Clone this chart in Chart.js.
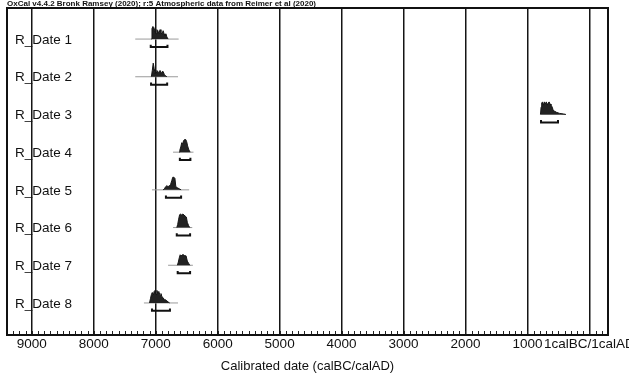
<!DOCTYPE html>
<html>
<head>
<meta charset="utf-8">
<script src="https://cdn.jsdelivr.net/npm/chart.js@4/dist/chart.umd.min.js"></script>
<style>
  body { margin: 0; background: #fff; }
</style>
</head>
<body>
<canvas id="myChart" width="629" height="378"></canvas>
<script>
// sample names
const labels = ['R_Date 1', 'R_Date 2', 'R_Date 3', 'R_Date 4', 'R_Date 5', 'R_Date 6', 'R_Date 7', 'R_Date 8'];

// x ticks, years calBC (0 = 1calBC/1calAD)
const tickYears = [9000, 8000, 7000, 6000, 5000, 4000, 3000, 2000, 1000, 0];

// extent of the faint likelihood line for each date
const spans = [[7330, 6630], [7330, 6640], [790, 380], [6720, 6390], [7060, 6460], [6720, 6410], [6800, 6400], [7190, 6640]];

// 95.4% range bracket under each date
const ranges = [[7080, 6810], [7075, 6815], [781, 507], [6610, 6440], [6835, 6590], [6660, 6445], [6645, 6445], [7060, 6770]];

// calibrated distributions (years calBC, relative probability)
const dateYears = [
    [7070, 7060, 7045, 7030, 7010, 6995, 6980, 6965, 6950, 6930, 6915, 6900, 6880, 6865, 6850, 6835, 6820, 6800],
    [7070, 7055, 7040, 7025, 7010, 6995, 6980, 6960, 6945, 6930, 6910, 6895, 6880, 6860, 6840, 6820],
    [790, 780, 770, 755, 740, 725, 710, 695, 680, 665, 650, 635, 620, 600, 585, 560, 530, 480, 420, 380],
    [6620, 6610, 6595, 6580, 6565, 6550, 6535, 6515, 6500, 6485, 6470, 6455, 6440],
    [6880, 6860, 6840, 6820, 6800, 6780, 6760, 6740, 6725, 6705, 6690, 6675, 6650, 6620, 6590],
    [6660, 6645, 6630, 6615, 6600, 6580, 6560, 6545, 6525, 6505, 6490, 6470, 6450],
    [6650, 6635, 6620, 6605, 6590, 6570, 6550, 6530, 6510, 6490, 6470, 6450],
    [7100, 7085, 7070, 7055, 7040, 7025, 7010, 6995, 6980, 6965, 6950, 6930, 6915, 6900, 6880, 6860, 6840, 6820, 6800, 6775]
];
const dateProbs = [
    [0, 10, 12, 11, 7, 5, 9, 8, 5, 9, 7, 4, 8, 5, 3, 5, 2, 0],
    [0, 6, 13, 8, 3, 4, 6, 3, 5, 6, 3, 5, 5, 2, 1, 0],
    [0, 7, 11, 12, 9, 12, 10, 12, 9, 11, 12, 10, 9, 7, 4, 3, 2, 1, 0.5, 0],
    [0, 2, 5, 9, 8, 11, 12, 12, 10, 6, 3, 1, 0],
    [0, 1, 3, 4, 3, 4, 5, 9, 12, 12, 11, 3, 2, 1, 0],
    [0, 3, 8, 12, 13, 12, 13, 12, 11, 10, 5, 2, 0],
    [0, 3, 7, 10, 9, 10, 10, 9, 9, 4, 2, 0],
    [0, 4, 8, 10, 7, 11, 12, 8, 12, 9, 11, 7, 9, 6, 5, 3, 3, 2, 1, 0]
];

const fontFamily = '"Liberation Sans", Arial, sans-serif';
const rowTop = 7.85;      // baseline of first row in y units
const probScale = 1 / 36; // relative probability -> y units
const bracketDrop = 0.21;
const bracketTick = 0.06;

const datasets = [];
labels.forEach(function(name, i) {
    const base = rowTop - i;
    datasets.push({
        label: name + ' dist',
        data: dateYears[i].map((yr, k) => ({ x: yr, y: base + dateProbs[i][k] * probScale })),
        borderColor: '#151515',
        backgroundColor: '#222',
        borderWidth: 1,
        fill: { value: base },
        pointRadius: 0,
        tension: 0
    });
    datasets.push({
        label: name + ' span',
        data: [{ x: spans[i][0], y: base }, { x: spans[i][1], y: base }],
        borderColor: '#9a9a9a',
        borderWidth: 1,
        pointRadius: 0
    });
    const by = base - bracketDrop;
    datasets.push({
        label: name + ' range',
        data: [
            { x: ranges[i][0], y: by + bracketTick },
            { x: ranges[i][0], y: by },
            { x: ranges[i][1], y: by },
            { x: ranges[i][1], y: by + bracketTick }
        ],
        borderColor: '#111',
        borderWidth: 2,
        pointRadius: 0
    });
});

// frame, minor ticks and row names
const oxcalPlugin = {
    id: 'oxcal',
    beforeDatasetsDraw(chart) {
        const ctx = chart.ctx;
        const area = chart.chartArea;
        const xs = chart.scales.x;
        ctx.save();
        ctx.strokeStyle = '#222';
        ctx.lineWidth = 1;
        for (let yr = 9400; yr >= -300; yr -= 100) {
            const px = Math.round(xs.getPixelForValue(yr)) + 0.5;
            ctx.beginPath();
            ctx.moveTo(px, area.bottom);
            ctx.lineTo(px, area.bottom - 4);
            ctx.stroke();
        }
        ctx.restore();
    },
    afterDatasetsDraw(chart) {
        const ctx = chart.ctx;
        const area = chart.chartArea;
        const ys = chart.scales.y;
        ctx.save();
        ctx.strokeStyle = '#111';
        ctx.lineWidth = 2;
        ctx.strokeRect(area.left, area.top, area.right - area.left, area.bottom - area.top);
        ctx.fillStyle = '#111';
        ctx.font = '13.5px ' + fontFamily;
        ctx.textBaseline = 'middle';
        labels.forEach(function(name, i) {
            ctx.fillText(name, area.left + 8, ys.getPixelForValue(rowTop - i) + 1);
        });
        ctx.restore();
    }
};

const config = {
    type: 'line',
    data: { datasets: datasets },
    options: {
        responsive: false,
        animation: false,
        layout: { padding: { left: 7, right: 21, top: 0, bottom: 0 } },
        plugins: {
            legend: { display: false },
            tooltip: { enabled: false },
            title: {
                display: true,
                text: 'OxCal v4.4.2 Bronk Ramsey (2020); r:5 Atmospheric data from Reimer et al (2020)',
                align: 'start',
                color: '#111',
                font: { family: fontFamily, size: 8, lineHeight: 1 },
                padding: { top: 0, bottom: 0 }
            }
        },
        scales: {
            x: {
                type: 'linear',
                reverse: true,
                min: -300,
                max: 9400,
                afterBuildTicks: function(scale) {
                    scale.ticks = tickYears.map(v => ({ value: v }));
                },
                afterFit: function(scale) {
                    scale.height = 43;
                    scale.paddingLeft = 0;
                    scale.paddingRight = 0;
                },
                ticks: {
                    autoSkip: false,
                    maxRotation: 0,
                    padding: 1,
                    color: '#111',
                    font: { family: fontFamily, size: 13.5 },
                    callback: function(v) { return v === 0 ? '1calBC/1calAD' : String(v); }
                },
                grid: { color: '#151515', lineWidth: 1.5, drawTicks: false },
                border: { display: true, color: '#111', width: 2 },
                title: {
                    display: true,
                    text: 'Calibrated date (calBC/calAD)',
                    color: '#111',
                    font: { family: fontFamily, size: 13 },
                    padding: { top: 0, bottom: 4 }
                }
            },
            y: {
                display: false,
                min: 0,
                max: 8.674
            }
        }
    },
    plugins: [oxcalPlugin]
};

const ctx = document.getElementById('myChart').getContext('2d');
new Chart(ctx, config);
</script>
</body>
</html>
